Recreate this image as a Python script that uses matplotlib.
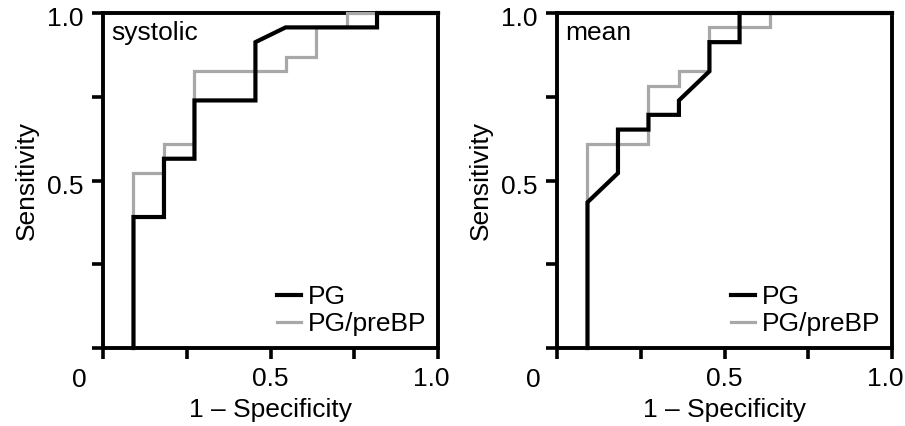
import matplotlib.pyplot as plt
import matplotlib.transforms as mtransforms
from matplotlib.lines import Line2D

plt.rcParams['font.family'] = ['Liberation Sans', 'DejaVu Sans']

# ROC-kurvor (1 - specificitet, sensitivitet)
sys_pg_fpr = [0.091, 0.091, 0.182, 0.182, 0.273, 0.273, 0.455, 0.455, 0.545, 0.818, 0.818, 1.0]
sys_pg_tpr = [0.0, 0.391, 0.391, 0.565, 0.565, 0.739, 0.739, 0.913, 0.957, 0.957, 1.0, 1.0]
sys_pre_fpr = [0.091, 0.091, 0.182, 0.182, 0.273, 0.273, 0.545, 0.545, 0.636, 0.636, 0.727, 0.727, 1.0]
sys_pre_tpr = [0.0, 0.522, 0.522, 0.609, 0.609, 0.826, 0.826, 0.870, 0.870, 0.957, 0.957, 1.0, 1.0]

mean_pg_fpr = [0.091, 0.091, 0.182, 0.182, 0.273, 0.273, 0.364, 0.364, 0.455, 0.455, 0.545, 0.545, 1.0]
mean_pg_tpr = [0.0, 0.435, 0.522, 0.652, 0.652, 0.696, 0.696, 0.739, 0.826, 0.913, 0.913, 1.0, 1.0]
mean_pre_fpr = [0.091, 0.091, 0.273, 0.273, 0.364, 0.364, 0.455, 0.455, 0.636, 0.636, 1.0]
mean_pre_tpr = [0.0, 0.609, 0.609, 0.783, 0.783, 0.826, 0.826, 0.957, 0.957, 1.0, 1.0]

panels = [
    ('systolic', sys_pg_fpr, sys_pg_tpr, sys_pre_fpr, sys_pre_tpr),
    ('mean', mean_pg_fpr, mean_pg_tpr, mean_pre_fpr, mean_pre_tpr),
]

GREY = '#a8a8a8'
fs = 19

fig = plt.figure(figsize=(9.05, 4.26), dpi=100)
lefts = [103 / 905, 557 / 905]

for left, (name, pg_x, pg_y, pre_x, pre_y) in zip(lefts, panels):
    ax = fig.add_axes([left, 1 - 348 / 426, 335 / 905, 335 / 426])
    ax.set_xlim(0, 1)
    ax.set_ylim(0, 1)

    ax.plot(pre_x, pre_y, color=GREY, lw=2.3, clip_on=False, zorder=3,
            solid_joinstyle='miter')
    ax.plot(pg_x, pg_y, color='black', lw=3.0, clip_on=False, zorder=4,
            solid_joinstyle='miter')

    for s in ax.spines.values():
        s.set_linewidth(2.8)

    ticks = [0, 0.25, 0.5, 0.75, 1.0]
    ax.set_xticks(ticks)
    ax.set_xticklabels(['', '', '0.5', '', '1.0'])
    ax.set_yticks(ticks)
    ax.set_yticklabels(['', '', '0.5', '', '1.0'])
    ax.tick_params(direction='out', length=8, width=2.6, labelsize=fs, pad=6)

    # små förskjutningar av etiketterna
    down = mtransforms.ScaledTranslation(0, -0.04, fig.dpi_scale_trans)
    for lab in ax.get_yticklabels():
        lab.set_transform(lab.get_transform() + down)
    shift = mtransforms.ScaledTranslation(-0.07, 0, fig.dpi_scale_trans)
    xlabs = ax.get_xticklabels()
    xlabs[-1].set_transform(xlabs[-1].get_transform() + shift)

    # gemensam nolla i hörnet
    ax.text(-0.07, -0.095, '0', transform=ax.transAxes, fontsize=fs,
            ha='center', va='center')

    ax.set_xlabel('1 – Specificity', fontsize=fs, labelpad=5)
    ax.set_ylabel('Sensitivity', fontsize=fs, labelpad=6)
    ax.text(0.025, 0.94, name, transform=ax.transAxes, fontsize=fs,
            ha='left', va='center')

    handles = [Line2D([], [], color='black', lw=3.0),
               Line2D([], [], color=GREY, lw=2.3)]
    ax.legend(handles, ['PG', 'PG/preBP'], loc='lower right', frameon=False,
              fontsize=fs, handlelength=0.9, handletextpad=0.25,
              borderaxespad=0.05, labelspacing=0.1)

fig.savefig('out.png', dpi=100)
